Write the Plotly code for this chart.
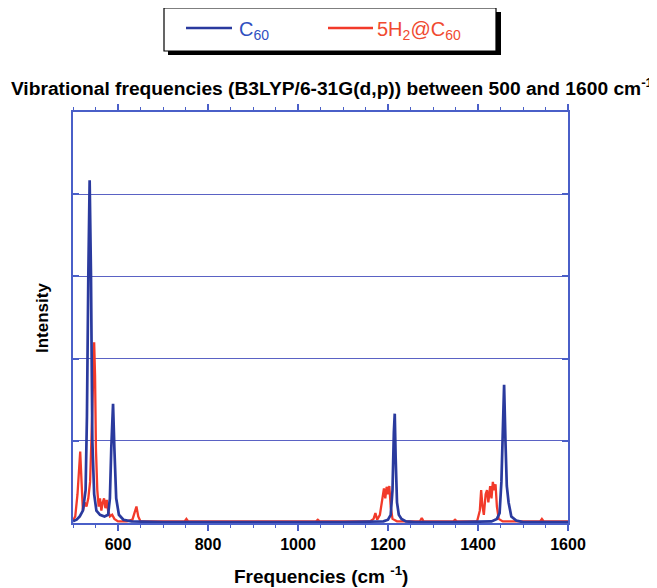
import plotly.graph_objects as go

# C60 spectrum (frequency cm-1, intensity)
c60_x = [500, 508, 515, 522, 528, 531, 534, 537, 540, 543, 547, 552, 560, 570, 578, 582, 585,
         589, 592, 596, 602, 612, 630, 700, 900, 1100, 1190, 1200, 1206, 1210, 1213, 1215, 1217,
         1220, 1224, 1230, 1240, 1260, 1350, 1430, 1442, 1448, 1452, 1455, 1458, 1461, 1464,
         1468, 1474, 1485, 1500, 1600]
c60_y = [0.02, 0.04, 0.08, 0.15, 0.4, 1.3, 3.0, 4.17, 3.0, 1.0, 0.35, 0.15, 0.1, 0.08, 0.1, 0.3, 0.9,
         1.45, 0.9, 0.3, 0.1, 0.04, 0.02, 0.01, 0.01, 0.01, 0.02, 0.04, 0.1, 0.4, 1.1, 1.33, 0.8,
         0.25, 0.1, 0.05, 0.02, 0.01, 0.01, 0.02, 0.05, 0.12, 0.5, 1.3, 1.68, 1.0, 0.45,
         0.25, 0.08, 0.03, 0.01, 0.01]

# 5H2@C60 spectrum
h2_x = [500, 505, 510, 514, 516, 519, 522, 526, 530, 534, 538, 542, 545, 547, 549, 551, 554, 557,
        560, 563, 566, 569, 572, 575, 578, 582, 587, 592, 600, 620, 632, 637, 641, 645, 650,
        748, 752, 756, 1040, 1044, 1048, 1160, 1168, 1172, 1176, 1182, 1187, 1191, 1194, 1197,
        1200, 1203, 1206, 1210, 1220, 1271, 1275, 1279, 1345, 1349, 1353, 1398, 1404, 1407,
        1410, 1413, 1417, 1420, 1423, 1427, 1430, 1433, 1436, 1439, 1442, 1446, 1455, 1538,
        1542, 1546, 1600]
h2_y = [0.03, 0.08, 0.35, 0.8, 0.87, 0.5, 0.15, 0.25, 0.2, 0.3, 0.5, 1.2, 2.0, 2.2, 1.8, 0.9, 0.4, 0.2,
        0.3, 0.15, 0.25, 0.3, 0.18, 0.28, 0.15, 0.08, 0.1, 0.05, 0.02, 0.02, 0.04, 0.12, 0.2, 0.08, 0.02,
        0.02, 0.05, 0.02, 0.02, 0.04, 0.02, 0.02, 0.05, 0.12, 0.04, 0.1, 0.3, 0.42, 0.3, 0.44,
        0.35, 0.45, 0.2, 0.05, 0.02, 0.02, 0.06, 0.02, 0.02, 0.04, 0.02, 0.02, 0.15, 0.4,
        0.2, 0.1, 0.35, 0.4, 0.25, 0.45, 0.3, 0.5, 0.4, 0.47, 0.2, 0.05, 0.02, 0.02,
        0.05, 0.02, 0.02]

x_ticks = [600, 800, 1000, 1200, 1400, 1600]

BLUE = "#2a3a9e"
RED = "#f23a2a"
BLUE_TXT = "#2f4fbf"
RED_TXT = "#f04a30"
AXIS = "#4a5fc8"
FONT = "Liberation Sans"

# page body has an 8px margin; figure sized so that it fills the 657x588 window
OFF = 8
W, H = 657 - OFF, 588 - OFF
L, T = 73 - OFF, 112 - OFF
R = W - (568 - OFF)
B = H - (523 - OFF)
pw, ph = W - L - R, H - T - B


def px(x):  # reference-window x -> paper
    return (x - OFF - L) / pw


def py(y):  # reference-window y -> paper
    return 1 + (T - (y - OFF)) / ph


fig = go.Figure()
fig.add_trace(go.Scatter(x=h2_x, y=h2_y, mode="lines", line=dict(color=RED, width=2.3),
                         name="5H2@C60", showlegend=False))
fig.add_trace(go.Scatter(x=c60_x, y=c60_y, mode="lines", line=dict(color=BLUE, width=2.7),
                         name="C60", showlegend=False))

# legend frame with shadow
fig.add_shape(type="rect", xref="paper", yref="paper", x0=px(168), x1=px(501), y0=py(55), y1=py(12),
              fillcolor="black", line=dict(width=0), layer="below")
fig.add_shape(type="rect", xref="paper", yref="paper", x0=px(164), x1=px(496), y0=py(51), y1=py(8),
              fillcolor="white", line=dict(color="black", width=1.2), layer="below")
# legend keys
fig.add_shape(type="line", xref="paper", yref="paper", x0=px(186), x1=px(232), y0=py(28), y1=py(28),
              line=dict(color=BLUE, width=2.7))
fig.add_shape(type="line", xref="paper", yref="paper", x0=px(328), x1=px(373), y0=py(28), y1=py(28),
              line=dict(color=RED, width=2.3))
fig.add_annotation(xref="paper", yref="paper", x=px(237), y=py(30), xanchor="left", yanchor="middle",
                   showarrow=False, text="C<sub>60</sub>", font=dict(size=20, family=FONT, color=BLUE_TXT))
fig.add_annotation(xref="paper", yref="paper", x=px(375), y=py(30), xanchor="left", yanchor="middle",
                   showarrow=False, text="5H<sub>2</sub>@C<sub>60</sub>",
                   font=dict(size=20, family=FONT, color=RED_TXT))

# axis titles
fig.add_annotation(xref="paper", yref="paper", x=px(321), y=py(575), xanchor="center", yanchor="middle",
                   showarrow=False, text="<b>Frequencies (cm <sup>-1</sup>)</b>",
                   font=dict(size=19, family=FONT, color="black"))
fig.add_annotation(xref="paper", yref="paper", x=px(42), y=py(318), xanchor="center", yanchor="middle",
                   showarrow=False, textangle=-90, text="<b>Intensity</b>",
                   font=dict(size=17, family=FONT, color="black"))

fig.update_layout(
    width=W, height=H,
    margin=dict(l=L, r=R, t=T, b=B),
    paper_bgcolor="white", plot_bgcolor="white",
    font=dict(family=FONT, color="black"),
    title=dict(text="<b>Vibrational frequencies (B3LYP/6-31G(d,p)) between 500 and 1600 cm<sup>-1</sup></b>",
               x=(332 - OFF) / W, xref="container", xanchor="center", y=1 - (88 - OFF) / H, yanchor="middle",
               font=dict(size=19.2, family=FONT, color="black"), automargin=False),
    showlegend=False,
    xaxis=dict(range=[500, 1600], tickvals=x_ticks, ticktext=[str(v) for v in x_ticks],
               ticks="outside", ticklen=6, tickcolor=AXIS, tickwidth=1.5, automargin=False,
               minor=dict(dtick=50, tick0=500, ticks="outside", ticklen=3, tickcolor=AXIS, tickwidth=1.2),
               showline=True, linecolor=AXIS, linewidth=1.5, mirror="ticks", showgrid=False, zeroline=False,
               tickfont=dict(size=16, family=FONT, weight="bold", color="black")),
    yaxis=dict(range=[0, 5], dtick=1, showticklabels=False, ticks="inside", ticklen=6, tickcolor=AXIS,
               tickwidth=2, showline=True, linecolor=AXIS, linewidth=1.5, mirror="ticks", automargin=False,
               showgrid=True, gridcolor="#5a62c4", gridwidth=1, zeroline=False),
)

fig.write_html("out.html")
